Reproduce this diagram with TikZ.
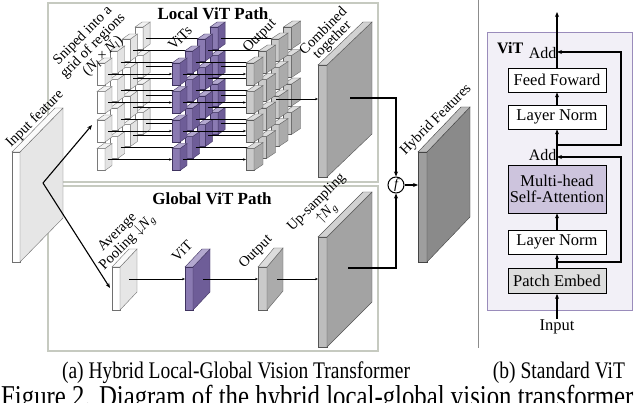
\documentclass[tikz,border=0pt]{standalone}
\usepackage{fontspec}
\setmainfont{Liberation Serif}
\usetikzlibrary{arrows.meta}
\definecolor{wF}{HTML}{FFFFFF}\definecolor{wS}{HTML}{E3E3E3}\definecolor{wT}{HTML}{F2F2F2}\definecolor{wE}{HTML}{7A7A7A}
\definecolor{pF}{HTML}{8A7AB2}\definecolor{pS}{HTML}{6E5D98}\definecolor{pT}{HTML}{B3A8CF}\definecolor{pE}{HTML}{3F3360}
\definecolor{gF}{HTML}{CACACA}\definecolor{gS}{HTML}{ABABAB}\definecolor{gT}{HTML}{DCDCDC}\definecolor{gE}{HTML}{5E5E5E}
\definecolor{iF}{HTML}{FFFFFF}\definecolor{iS}{HTML}{E6E6E6}\definecolor{iT}{HTML}{FAFAFA}\definecolor{iE}{HTML}{707070}
\definecolor{cF}{HTML}{BDBDBD}\definecolor{cS}{HTML}{A3A3A3}\definecolor{cT}{HTML}{D2D2D2}\definecolor{cE}{HTML}{555555}
\definecolor{hF}{HTML}{9E9E9E}\definecolor{hS}{HTML}{8A8A8A}\definecolor{hT}{HTML}{BDBDBD}\definecolor{hE}{HTML}{444444}
\definecolor{pathbox}{HTML}{C6CAC0}
\definecolor{vitedge}{HTML}{9A8CBB}\definecolor{vitbg}{HTML}{F2F0F7}
\definecolor{mhsafill}{HTML}{CDC4DD}\definecolor{pefill}{HTML}{DDDDDD}
\newcommand{\Nsub}[1]{\textit{N}\textsubscript{\textit{#1}}}
% slab: x y w h dx dy colourset
\newcommand{\slab}[7]{%
  \filldraw[draw=#7E, line width=0.4pt, fill=#7F] (#1,#2) rectangle ++(#3,#4);
  \filldraw[draw=#7E, line width=0.4pt, fill=#7S] ({#1+#3},#2) -- ++(#5,-#6) -- ++(0,#4) -- ++(-#5,#6) -- cycle;
  \filldraw[draw=#7E, line width=0.4pt, fill=#7T] (#1,#2) -- ++(#5,-#6) -- ++(#3,0) -- ++(-#5,#6) -- cycle;
}
\begin{document}
\begin{tikzpicture}[x=1pt,y=-1pt,
  lbl/.style={font=\fontsize{14.5}{12.5}\selectfont, rotate=45, align=center, inner sep=0pt},
  ttl/.style={font=\fontsize{17}{17}\selectfont\bfseries, inner sep=0pt},
  vbox/.style={draw=black, line width=0.8pt, minimum width=98pt, minimum height=24pt, font=\fontsize{16.5}{16}\selectfont, inner sep=0pt, fill=white},
  conn/.style={line width=1.1pt, -{Stealth[length=5pt,width=4pt]}},
  tarr/.style={line width=0.5pt, -{Stealth[length=3pt,width=2.4pt]}},
  captxt/.style={font=\fontsize{19.5}{19.5}\selectfont, inner sep=0pt, anchor=base}]
\useasboundingbox (0,0) rectangle (640,403);
\clip (0,0) rectangle (640,403);
\fill[white] (0,0) rectangle (640,403);

% path boxes
\draw[pathbox, line width=1.2pt] (48,3) rectangle (378,182);
\draw[pathbox, line width=1.2pt] (48,186) rectangle (378,351);
\node[ttl] (ltitle) at (213,14) {Local ViT Path};
\node[ttl] (gtitle) at (212,199) {Global ViT Path};

% input feature
\slab{12}{152}{8}{110}{43}{44}{i}
\node[lbl] (linput) at (35,119) {Input feature};
\coordinate (inpt) at (43,183);
\coordinate (gridin) at (92,125);
\coordinate (poolin) at (110,288);

% local grid
\foreach \k in {3,2,1,0}{
  \pgfmathsetmacro\xw{97+12.7*\k}
  \pgfmathsetmacro\xp{172+12.7*\k}
  \pgfmathsetmacro\xg{246+12.5*\k}
  \foreach \i in {0,1,2,3}{
    \pgfmathsetmacro\yy{63-12*\k+28.5*\i}
    \slab{\xw}{\yy}{8}{22}{7}{5}{w}
    \slab{\xp}{\yy}{8}{22}{7}{5}{p}
    \slab{\xg}{\yy}{8}{22}{9}{6}{g}
  }
  \foreach \i in {0,1,2,3}{
    \pgfmathsetmacro\yy{63-12*\k+28.5*\i}
    \draw[tarr] ({\xw+11},{\yy+11}) -- ({\xp},{\yy+11});
    \draw[tarr] ({\xp+11},{\yy+11}) -- ({\xg},{\yy+11});
  }
}
\node[lbl] (lsnip) at (93,46) {Sniped into a\\grid of regions\\(\Nsub{l}\,×\,\Nsub{l})};
\node[lbl] (lvits) at (180,38) {ViTs};
\node[lbl] (lout1) at (260,36) {Output};

% combined
\slab{318}{65}{9}{112}{45}{43}{c}
\node[lbl] (lcomb) at (328,36) {Combined\\together};
\coordinate (gridout) at (276,99);
\coordinate (combin) at (318,99);
\coordinate (combout) at (350,98);
\draw[tarr] (gridout) -- (combin);

% input arrows
\draw[conn] (inpt) -- (gridin);
\draw[conn] (inpt) -- (poolin);

% global path
\slab{112}{267}{8}{43}{17}{18}{i}
\slab{185}{267}{8}{43}{17}{18}{p}
\slab{258}{267}{9}{43}{16}{19}{g}
\slab{318}{237}{9}{110}{45}{45}{c}
\coordinate (poolout) at (129,279);
\coordinate (vitin) at (185,279);
\coordinate (vitout) at (203,279);
\coordinate (outin) at (258,279);
\coordinate (outout) at (277,279);
\coordinate (upin) at (318,279);
\coordinate (upout) at (348,268);
\draw[tarr] (poolout) -- (vitin);
\draw[tarr] (vitout) -- (outin);
\draw[tarr] (outout) -- (upin);
\node[lbl] (lpool) at (123,238) {Average\\Pooling $\downarrow$\Nsub{g}};
\node[lbl] (lvit) at (182,251) {ViT};
\node[lbl] (lout2) at (256,252) {Output};
\node[lbl] (lup) at (322,208) {Up-sampling\\$\uparrow$\Nsub{g}};

% fusion
\node[draw=black, line width=1pt, circle, minimum size=16pt, inner sep=0pt, fill=white, font=\fontsize{14}{14}\selectfont\itshape] (f) at (396,185) {f};
\draw[conn] (combout) -| (f.north);
\draw[conn] (upout) -| (f.south);
\slab{418}{152}{9}{110}{43}{45}{h}
\coordinate (hybin) at (418,185);
\draw[conn] (f.east) -- (hybin);
\node[lbl] (lhyb) at (436,120) {Hybrid Features};

% separator
\draw[black!45, line width=1pt] (478,0) -- (478,348);

% standard ViT
\node[draw=vitedge, fill=vitbg, line width=0.8pt, minimum width=145pt, minimum height=278pt, inner sep=0pt] (vitbox) at (559.5,171) {};
\node[font=\fontsize{16}{16}\selectfont\bfseries, anchor=west, inner sep=0pt] (vitlbl) at (497,48) {ViT};
\node[vbox] (ff) at (557,80) {Feed Foward};
\node[vbox] (ln2) at (557,117) {Layer Norm};
\node[vbox, fill=mhsafill, minimum height=48pt, align=center] (mh) at (557,189) {Multi-head\\Self-Attention};
\node[vbox] (ln1) at (557,242) {Layer Norm};
\node[vbox, fill=pefill, minimum height=25pt] (pe) at (557,281) {Patch Embed};
\node[font=\fontsize{16.5}{16}\selectfont, inner sep=1pt] (inp) at (557,327) {Input};
\coordinate (top) at (557,12);
\coordinate (rx) at (621,0);
\coordinate (b1) at (557,262);
\coordinate (a1) at (557,157);
\coordinate (b2) at (557,145);
\coordinate (a2) at (557,52);
\draw[conn] (inp) -- (pe);
\draw[conn] (pe) -- (ln1);
\draw[conn] (ln1) -- (mh);
\draw[conn] (mh) -- (ln2);
\draw[conn] (ln2) -- (ff);
\draw[conn] (ff) -- (top);
\draw[conn] (b1) -- (b1 -| rx) -- (a1 -| rx) -- (a1);
\draw[conn] (b2) -- (b2 -| rx) -- (a2 -| rx) -- (a2);
\node[font=\fontsize{16}{16}\selectfont, anchor=east, inner sep=0.5pt] (add1) at (557,155) {Add};
\node[font=\fontsize{16}{16}\selectfont, anchor=east, inner sep=0.5pt] (add2) at (557,53) {Add};

% captions
\node[captxt] (capa) at (236,378) {\scalebox{1}[1.22]{(a) Hybrid Local-Global Vision Transformer}};
\node[captxt] (capb) at (559,378) {\scalebox{1}[1.22]{(b) Standard ViT}};
\node[font=\fontsize{24.8}{24}\selectfont, anchor=base west, inner sep=0pt] (fig) at (1,406) {\scalebox{1}[1.22]{Figure 2. Diagram of the hybrid local-global vision transformer}};
\end{tikzpicture}
\end{document}
